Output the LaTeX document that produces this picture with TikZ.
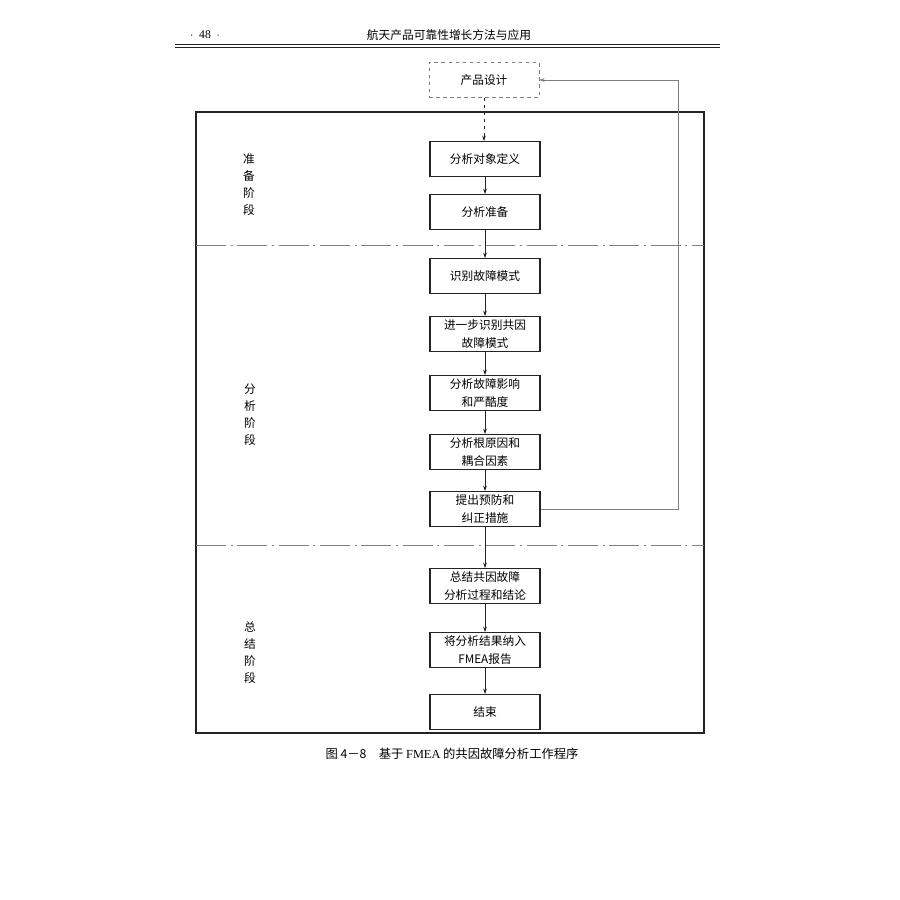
\documentclass[tikz,border=0pt]{standalone}
\usepackage{fontspec}
\setmainfont{Liberation Serif}
\newfontfamily\cjk{Noto Sans CJK SC}
\usetikzlibrary{positioning,arrows.meta}
\definecolor{InkGray}{RGB}{35,35,35}
\definecolor{LoopGray}{RGB}{125,125,125}
\tikzset{
  flow/.style={-{Stealth[length=1.6mm,width=1.1mm]},line width=0.5pt,draw=InkGray},
  dashflow/.style={flow,dashed},
  loopflow/.style={-{Stealth[length=1.6mm,width=1.1mm]},line width=0.5pt,draw=LoopGray},
  stepbox/.style={draw=InkGray,line width=0.9pt,minimum width=33mm,minimum height=10.5mm,
    align=center,inner sep=1pt,font=\cjk\fontsize{10}{15}\selectfont},
  dashbox/.style={stepbox,dashed,draw=LoopGray,line width=0.6pt},
  stagelabel/.style={align=center,font=\cjk\fontsize{10}{14.5}\selectfont},
  divider/.style={draw=gray,line width=0.6pt,dash pattern=on 9mm off 1.4mm on 0.6mm off 1.4mm}
}

\begin{document}
\begin{tikzpicture}[x=0.3mm,y=-0.3mm]
  \useasboundingbox (0,0) rectangle (900,900);
  % page header
  \node[font=\fontsize{10}{12}\selectfont] (pageno) at (205,35) {$\cdot$\enspace 48\enspace $\cdot$};
  \node[font=\cjk\fontsize{10}{12}\selectfont] (booktitle) at (449,35) {航天产品可靠性增长方法与应用};
  \draw[line width=0.4pt,draw=InkGray] (175,44.5) -- (720,44.5);
  \draw[line width=1pt,draw=InkGray] (175,47.5) -- (720,47.5);

  % frame and stage dividers
  \draw[line width=1pt,draw=InkGray] (196,112) rectangle (704,733);
  \draw[divider] (196,245) -- (704,245);
  \draw[divider] (196,545) -- (704,545);

  \node[stagelabel] (prep) at (249,185) {准\\备\\阶\\段};
  \node[stagelabel] (anal) at (250,415) {分\\析\\阶\\段};
  \node[stagelabel] (summ) at (250,653) {总\\结\\阶\\段};

  % steps
  \node[dashbox] (design) at (484,80) {产品设计};
  \node[stepbox] (define) at (485,159) {分析对象定义};
  \node[stepbox] (ready) at (485,212) {分析准备};
  \node[stepbox] (ident) at (485,276) {识别故障模式};
  \node[stepbox] (common) at (485,334) {进一步识别共因\\故障模式};
  \node[stepbox] (effect) at (485,393) {分析故障影响\\和严酷度};
  \node[stepbox] (cause) at (485,452) {分析根原因和\\耦合因素};
  \node[stepbox] (act) at (485,509) {提出预防和\\纠正措施};
  \node[stepbox] (sum) at (485,586) {总结共因故障\\分析过程和结论};
  \node[stepbox] (report) at (485,650) {将分析结果纳入\\FMEA报告};
  \node[stepbox] (stop) at (485,712) {结束};

  \draw[dashflow] (design.south) -- (design.south |- define.north);
  \draw[flow] (define) -- (ready);
  \draw[flow] (ready) -- (ident);
  \draw[flow] (ident) -- (common);
  \draw[flow] (common) -- (effect);
  \draw[flow] (effect) -- (cause);
  \draw[flow] (cause) -- (act);
  \draw[flow] (act) -- (sum);
  \draw[flow] (sum) -- (report);
  \draw[flow] (report) -- (stop);

  % feedback to design
  \coordinate (turn) at (678,509);
  \draw[loopflow] (act.east) -- (turn) |- (design.east);

  % caption
  \node[font=\cjk\fontsize{10.5}{12}\selectfont] (caption) at (452,754)
    {图 4－8\quad 基于 {\rmfamily FMEA} 的共因故障分析工作程序};
\end{tikzpicture}
\end{document}
